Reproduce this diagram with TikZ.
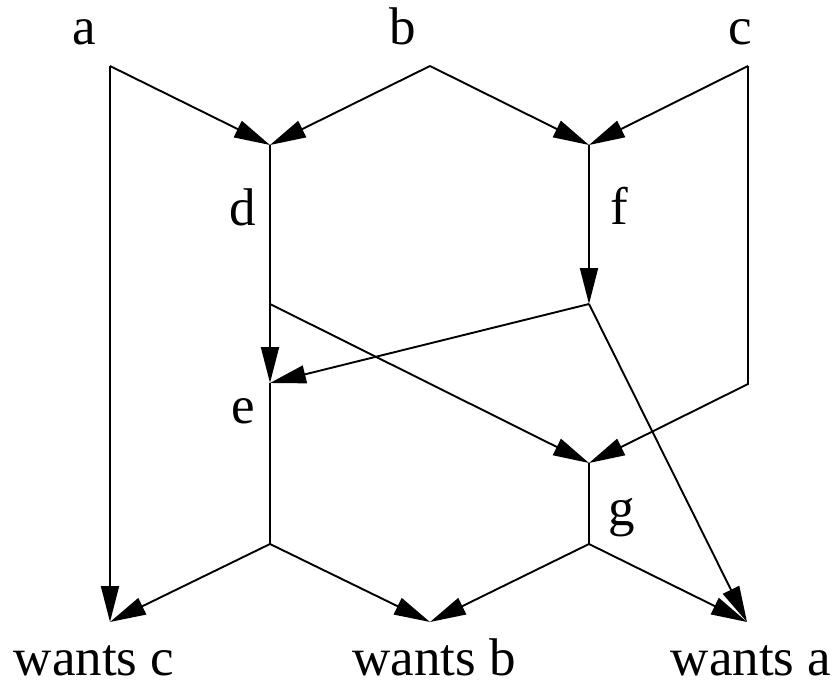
\documentclass[tikz,border=0pt]{standalone}
\usepackage{fontspec}
\setmainfont{Liberation Serif}
\usetikzlibrary{arrows.meta}
\begin{document}
\begin{tikzpicture}[x=1pt,y=-1pt,
  edge/.style={line width=1.9pt, -{Triangle[length=36pt,width=18pt]}},
  seg/.style={line width=1.9pt},
  lbl/.style={anchor=base, inner sep=0pt, font=\fontsize{53}{60}\selectfont}]
\useasboundingbox (0,0) rectangle (839,688);
% labels
\node[lbl] (la) at (84,45) {a};
\node[lbl] (lb) at (403,45) {b};
\node[lbl] (lc) at (740,45) {c};
\node[lbl] (ld) at (243,225) {d};
\node[lbl] (lf) at (619,224) {f};
\node[lbl] (le) at (243,423) {e};
\node[lbl] (lg) at (622,525) {g};
\node[lbl] (wc) at (94,675) {wants c};
\node[lbl] (wb) at (434,675) {wants b};
\node[lbl] (wa) at (751,675) {wants a};
% points
\coordinate (a) at (110,66);
\coordinate (b) at (430,66);
\coordinate (c) at (748,66);
\coordinate (dtop) at (270,145);
\coordinate (dmid) at (270,304);
\coordinate (ftop) at (589,145);
\coordinate (fbot) at (589,304);
\coordinate (cbend) at (748,384);
\coordinate (etop) at (270,383);
\coordinate (ebot) at (270,544);
\coordinate (gtop) at (589,463);
\coordinate (gbot) at (589,544);
\coordinate (tc) at (110,622);
\coordinate (tb) at (430,622);
\coordinate (ta) at (747,622);
% edges
\draw[edge] (a) -- (tc);
\draw[edge] (a) -- (dtop);
\draw[edge] (b) -- (dtop);
\draw[edge] (b) -- (ftop);
\draw[edge] (c) -- (ftop);
\draw[edge] (c) -- (cbend) -- (gtop);
\draw[edge] (dtop) -- (etop);
\draw[edge] (dmid) -- (gtop);
\draw[edge] (ftop) -- (fbot);
\draw[edge] (fbot) -- (etop);
\draw[edge] (fbot) -- (ta);
\draw[seg] (etop) -- (ebot);
\draw[edge] (ebot) -- (tc);
\draw[edge] (ebot) -- (tb);
\draw[seg] (gtop) -- (gbot);
\draw[edge] (gbot) -- (tb);
\draw[edge] (gbot) -- (ta);
\end{tikzpicture}
\end{document}
